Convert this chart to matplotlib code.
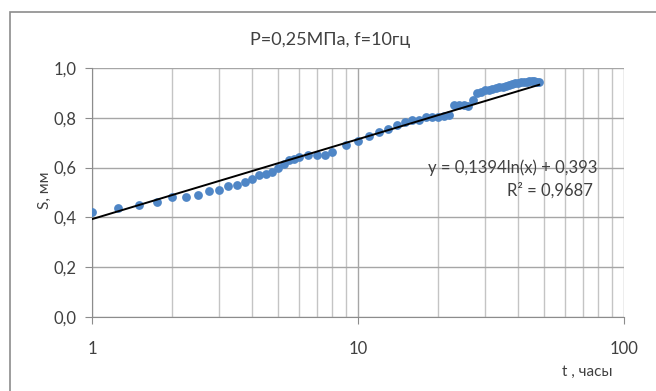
import numpy as np
import matplotlib.pyplot as plt
from matplotlib.patches import Rectangle
from matplotlib.ticker import FixedLocator, FuncFormatter, NullFormatter

# data
t_hours = [1.0, 1.25, 1.5, 1.75, 2.0, 2.25, 2.5, 2.75, 3.0, 3.25, 3.5, 3.75,
           4.0, 4.25, 4.5, 4.75, 5.0, 5.25, 5.5, 5.75, 6.0, 6.5, 7.0, 7.5,
           8.0, 9.0, 10, 11, 12, 13, 14, 15, 16, 17, 18, 19, 20, 21, 22, 23,
           24, 25, 26, 27, 28, 29, 30, 31, 32, 33, 34, 35, 36, 37, 38, 39,
           40, 41, 42, 43, 44, 45, 46, 47, 48]
s_mm = [0.423, 0.439, 0.450, 0.463, 0.480, 0.480, 0.490, 0.508, 0.510, 0.526,
        0.530, 0.543, 0.556, 0.570, 0.576, 0.582, 0.600, 0.615, 0.630, 0.636,
        0.642, 0.650, 0.650, 0.652, 0.664, 0.690, 0.708, 0.727, 0.744, 0.756,
        0.770, 0.784, 0.790, 0.790, 0.802, 0.804, 0.804, 0.808, 0.812, 0.850,
        0.850, 0.850, 0.846, 0.870, 0.898, 0.905, 0.910, 0.912, 0.916, 0.918,
        0.922, 0.924, 0.926, 0.930, 0.934, 0.938, 0.940, 0.942, 0.944, 0.945,
        0.946, 0.946, 0.946, 0.945, 0.944]

# logarithmic trend line shown on the chart
trend_a = 0.1394
trend_b = 0.393

plt.rcParams['font.family'] = ['Lato', 'DejaVu Sans']

fig = plt.figure(figsize=(6.56, 3.91), dpi=100)
ax = fig.add_axes([92/656, 1 - 317/391, (624-92)/656, (317-68)/391])

ax.scatter(t_hours, s_mm, s=40, color='#4f86c6', zorder=3, linewidths=0)

tt = np.linspace(1, max(t_hours), 200)
ax.plot(tt, trend_a*np.log(tt) + trend_b, color='black', lw=1.4, zorder=4)

ax.set_xscale('log')
ax.set_xlim(1, 100)
ax.set_ylim(0, 1.0)

ax.xaxis.set_major_locator(FixedLocator([1, 10, 100]))
ax.xaxis.set_minor_locator(FixedLocator([k*d for d in (1, 10) for k in range(2, 10)]))
ax.xaxis.set_minor_formatter(NullFormatter())
ax.xaxis.set_major_formatter(FuncFormatter(lambda v, p: f"{v:g}"))
ax.set_yticks(np.arange(0, 1.01, 0.2))
ax.yaxis.set_major_formatter(FuncFormatter(lambda v, p: f"{v:.1f}".replace('.', ',')))

ax.grid(True, which='major', color='#a6a6a6', lw=1.0)
ax.grid(True, which='minor', axis='x', color='#c4c4c4', lw=1.0)
ax.set_axisbelow(True)

for side in ('top', 'right'):
    ax.spines[side].set_visible(False)
for side in ('left', 'bottom'):
    ax.spines[side].set_color('#8c8c8c')
ax.tick_params(which='major', length=5, color='#8c8c8c', labelsize=12,
               labelcolor='#404040', pad=6)
ax.tick_params(which='minor', length=0)
ax.tick_params(axis='x', pad=12)

fig.text(330/656, 1 - 40/391, 'P=0,25МПа, f=10гц', ha='center', va='center',
         fontsize=13, color='#404040')
fig.text(45/656, 1 - 190/391, 'S, мм', rotation=90, ha='center', va='center',
         fontsize=11, color='#404040')
fig.text(612/656, 1 - 372/391, 't , часы', ha='right', va='center',
         fontsize=11, color='#404040')
fig.text(597/656, 1 - 168/391, 'y = 0,1394ln(x) + 0,393', ha='right', va='center',
         fontsize=12, color='#404040')
fig.text(593/656, 1 - 190/391, 'R² = 0,9687', ha='right', va='center',
         fontsize=12, color='#404040')

fig.patches.append(Rectangle((10/656, -0.1), 1.2, 1 - 12/391 + 0.1,
                             transform=fig.transFigure, fill=False,
                             edgecolor='#8c8c8c', lw=1.2))

fig.savefig('out.png', dpi=100)
